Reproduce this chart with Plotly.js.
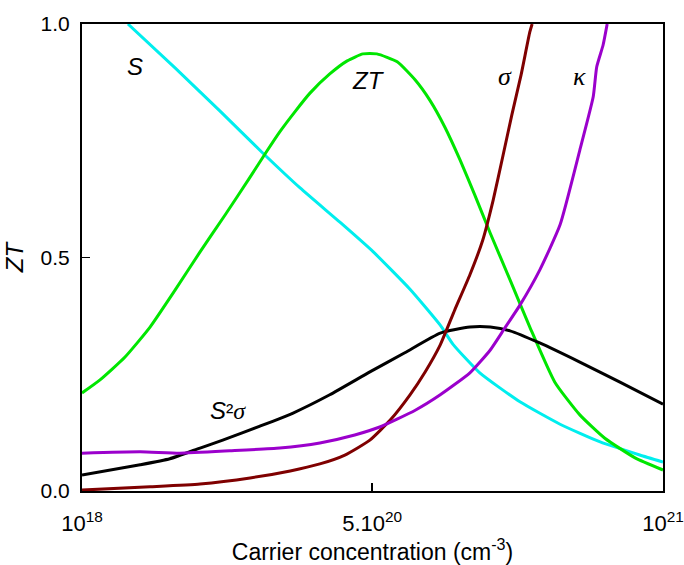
<!DOCTYPE html>
<html>
<head>
<meta charset="utf-8">
<script src="https://cdn.plot.ly/plotly-3.0.1.min.js"></script>
<style>html,body{margin:0;padding:0;background:#fff;}#chart{width:684px;height:565px;}</style>
</head>
<body>
<div id="chart"></div>
<script>
// x values in units of 1e18 cm^-3 (linear axis 1e18 .. 1e21)
const tickVals = [1, 500, 1000];
const tickText = ['10<sup>18</sup>', '5.10<sup>20</sup>', '10<sup>21</sup>'];

const sX = [80, 161, 238, 310, 376, 445, 501, 565, 617, 639, 685, 754, 823, 892, 960, 1000];
const sY = [1.0, 0.906, 0.814, 0.726, 0.649, 0.575, 0.513, 0.432, 0.355, 0.314, 0.253, 0.191, 0.143, 0.105, 0.077, 0.062];

const ztX = [1, 32, 75, 118, 161, 204, 247, 290, 319, 341, 367, 393, 427, 457, 484, 508, 543, 574, 599, 625, 651, 677, 703, 737, 771, 814, 857, 900, 952, 1000];
const ztY = [0.210, 0.238, 0.287, 0.351, 0.430, 0.512, 0.591, 0.672, 0.728, 0.769, 0.812, 0.852, 0.893, 0.921, 0.936, 0.936, 0.919, 0.880, 0.837, 0.779, 0.709, 0.632, 0.552, 0.452, 0.351, 0.233, 0.163, 0.113, 0.071, 0.045];

const s2sX = [1, 101, 152, 204, 243, 307, 364, 427, 496, 556, 617, 668, 703, 737, 788, 857, 926, 1000];
const s2sY = [0.034, 0.056, 0.069, 0.092, 0.109, 0.139, 0.167, 0.206, 0.255, 0.296, 0.338, 0.351, 0.351, 0.343, 0.317, 0.276, 0.233, 0.186];

const sigX = [1, 118, 204, 290, 359, 410, 453, 496, 531, 565, 591, 617, 642, 668, 690, 708, 725, 740, 756, 771, 775];
const sigY = [0.002, 0.009, 0.015, 0.028, 0.043, 0.058, 0.077, 0.109, 0.152, 0.206, 0.255, 0.313, 0.388, 0.463, 0.537, 0.623, 0.719, 0.805, 0.891, 0.983, 1.0];

const kapX = [1, 101, 169, 255, 341, 410, 470, 513, 574, 617, 668, 703, 728, 754, 788, 823, 857, 880, 886, 897, 904];
const kapY = [0.081, 0.084, 0.081, 0.086, 0.092, 0.103, 0.120, 0.137, 0.173, 0.206, 0.253, 0.302, 0.349, 0.398, 0.473, 0.570, 0.730, 0.844, 0.908, 0.955, 1.0];

function line(x, y, color) {
  return {x: x, y: y, type: 'scatter', mode: 'lines', line: {color: color, width: 3, shape: 'spline', smoothing: 0.5}, hoverinfo: 'skip'};
}

const traces = [
  line(sX, sY, '#00EEEE'),
  line(ztX, ztY, '#00E600'),
  line(s2sX, s2sY, '#000000'),
  line(sigX, sigY, '#7F0000'),
  line(kapX, kapY, '#9B00CC')
];

const sans = 'Liberation Sans, Arial, Helvetica, sans-serif';
const serif = 'Liberation Serif, Times New Roman, serif';

const layout = {
  width: 684, height: 565,
  margin: {l: 82, r: 21, t: 24, b: 74},
  paper_bgcolor: '#fff', plot_bgcolor: '#fff',
  showlegend: false,
  font: {family: sans, color: '#000', size: 21},
  xaxis: {
    range: [1, 1000], tickvals: tickVals, ticktext: tickText,
    ticks: 'inside', ticklen: 8, tickwidth: 1.5, tickcolor: '#000',
    showline: true, linecolor: '#000', linewidth: 2, mirror: true,
    showgrid: false, zeroline: false,
    ticklabelstandoff: 12,
    tickfont: {size: 22, family: sans},
    title: {text: 'Carrier concentration (cm<sup>-3</sup>)', font: {size: 23, family: sans}, standoff: 6}
  },
  yaxis: {
    range: [0, 1], tickvals: [0, 0.5, 1], ticktext: ['0.0', '0.5', '1.0'],
    ticks: 'inside', ticklen: 8, tickwidth: 1.5, tickcolor: '#000',
    showline: true, linecolor: '#000', linewidth: 2, mirror: true,
    showgrid: false, zeroline: false,
    ticklabelstandoff: 6,
    tickfont: {size: 21, family: sans},
    title: {text: '<i>ZT</i>', font: {size: 24, family: sans}, standoff: 10}
  },
  annotations: [
    {x: 92, y: 0.908, xref: 'x', yref: 'y', text: '<i>S</i>', showarrow: false, font: {size: 24, family: sans}},
    {x: 493, y: 0.880, xref: 'x', yref: 'y', text: '<i>ZT</i>', showarrow: false, font: {size: 24, family: sans}},
    {x: 728, y: 0.887, xref: 'x', yref: 'y', text: '<i>σ</i>', showarrow: false, font: {size: 26, family: serif}},
    {x: 857, y: 0.887, xref: 'x', yref: 'y', text: '<i>κ</i>', showarrow: false, font: {size: 26, family: serif}},
    {x: 252, y: 0.173, xref: 'x', yref: 'y', text: '<i>S</i><span style="font-size:22px">²</span><i style="font-family:Liberation Serif">σ</i>', showarrow: false, font: {size: 24, family: sans}}
  ]
};

Plotly.newPlot('chart', traces, layout, {displayModeBar: false, staticPlot: true});
</script>
</body>
</html>
